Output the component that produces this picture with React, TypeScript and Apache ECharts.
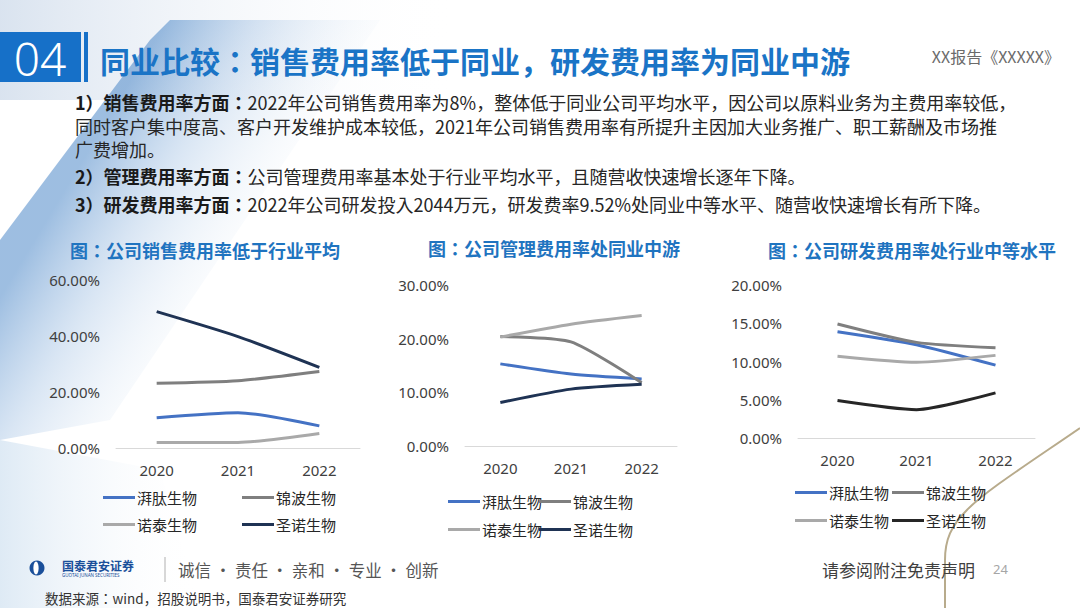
import React, { useEffect, useRef } from "react";
import * as echarts from "echarts";

const years = ["2020", "2021", "2022"];
const companies = ["湃肽生物", "锦波生物", "诺泰生物", "圣诺生物"];

// 销售费用率 (%)
const salesPaitai = [10.8, 12.6, 7.9];
const salesJinbo = [23.1, 24.0, 27.3];
const salesNuotai = [2.0, 2.0, 5.2];
const salesShengnuo = [48.7, 39.8, 28.8];

// 管理费用率 (%)
const adminPaitai = [15.3, 13.4, 12.5];
const adminJinbo = [20.4, 19.4, 11.8];
const adminNuotai = [20.3, 22.7, 24.3];
const adminShengnuo = [8.1, 10.6, 11.5];

// 研发费用率 (%)
const rdPaitai = [13.9, 12.2, 9.52];
const rdJinbo = [14.9, 12.5, 11.8];
const rdNuotai = [10.7, 9.9, 10.8];
const rdShengnuo = [4.9, 3.7, 5.9];

// y-axis ranges (max, interval)
const yMaxes = [60, 30, 20];
const yIntervals = [20, 10, 5];

const chartTitles = [
  "图：公司销售费用率低于行业平均",
  "图：公司管理费用率处同业中游",
  "图：公司研发费用率处行业中等水平",
];

const headline = "同业比较：销售费用率低于同业，研发费用率为同业中游";

const CJK = '"Noto Sans CJK SC", "Noto Sans", sans-serif';
const CJKJP = '"Noto Sans CJK JP", "Noto Sans CJK SC", sans-serif';

export default function App() {
  const ref = useRef<HTMLDivElement>(null);

  useEffect(() => {
    if (!ref.current) return;
    const chart = echarts.init(ref.current, undefined, { renderer: "svg" });

    const dataSets = [
      [salesPaitai, salesJinbo, salesNuotai, salesShengnuo],
      [adminPaitai, adminJinbo, adminNuotai, adminShengnuo],
      [rdPaitai, rdJinbo, rdNuotai, rdShengnuo],
    ];
    const palettes = [
      ["#4472c4", "#7f7f7f", "#a9a9a9", "#1f3354"],
      ["#4472c4", "#7f7f7f", "#a9a9a9", "#1f3354"],
      ["#4472c4", "#7f7f7f", "#a9a9a9", "#262626"],
    ];
    const grids = [
      { left: 116, top: 280, width: 244, height: 168 },
      { left: 465, top: 285, width: 212, height: 161 },
      { left: 798, top: 285, width: 237, height: 153 },
    ];
    const legendPos = [
      { cols: [103, 242], rows: [498, 525] },
      { cols: [448, 539], rows: [502, 530] },
      { cols: [795, 892], rows: [493, 521] },
    ];
    const titlePos = [
      { x: 70, y: 250 },
      { x: 428, y: 248 },
      { x: 768, y: 250 },
    ];

    const series: any[] = [];
    const legends: any[] = [];
    dataSets.forEach((set, gi) => {
      set.forEach((vals, si) => {
        series.push({
          type: "line",
          name: companies[si],
          xAxisIndex: gi,
          yAxisIndex: gi,
          data: vals,
          smooth: 0.22,
          showSymbol: false,
          symbol: "none",
          lineStyle: { color: palettes[gi][si], width: 3 },
          itemStyle: { color: palettes[gi][si] },
          z: 3 + si,
        });
        const lp = legendPos[gi];
        legends.push({
          left: lp.cols[si % 2],
          top: lp.rows[Math.floor(si / 2)] - 8,
          padding: 0,
          itemGap: 0,
          icon: "rect",
          itemWidth: 32,
          itemHeight: 3,
          selectedMode: false,
          data: [{ name: companies[si], itemStyle: { color: palettes[gi][si] } }],
          textStyle: { fontSize: 15, color: "#262626", fontFamily: CJK, padding: [0, 0, 0, -3] },
        });
      });
    });

    const para1 =
      "{b|1）销售费用率方面：}{n|2022年公司销售费用率为8%，整体低于同业公司平均水平，因公司以原料业务为主费用率较低，}\n" +
      "{n|同时客户集中度高、客户开发维护成本较低，2021年公司销售费用率有所提升主因加大业务推广、职工薪酬及市场推}\n" +
      "{n|广费增加。}";
    const para2 = "{b|2）管理费用率方面：}{n|公司管理费用率基本处于行业平均水平，且随营收快速增长逐年下降。}";
    const para3 = "{b|3）研发费用率方面：}{n|2022年公司研发投入2044万元，研发费率9.52%处同业中等水平、随营收快速增长有所下降。}";
    const paras = [
      { y: 125.5, text: para1 },
      { y: 176, text: para2 },
      { y: 204, text: para3 },
    ];

    const graphics: any[] = [
      { type: "rect", z: -20, shape: { x: 0, y: 0, width: 1080, height: 608 }, style: { fill: "#ffffff" } },
      {
        type: "polygon",
        z: -19,
        shape: { points: [[0, 0], [460, 0], [460, 100], [0, 100]] },
        style: {
          fill: new echarts.graphic.LinearGradient(0, 0, 1, 0, [
            { offset: 0, color: "rgba(205,218,234,0.75)" },
            { offset: 1, color: "rgba(255,255,255,0)" },
          ]),
        },
      },
      {
        type: "polygon",
        z: -18,
        shape: { points: [[0, 240], [150, 40], [170, 20], [380, 20], [110, 420], [0, 440]] },
        style: {
          fill: new echarts.graphic.LinearGradient(0.24, 0.3, 0.72, 0.62, [
            { offset: 0, color: "rgba(60,125,195,0.5)" },
            { offset: 0.35, color: "rgba(120,165,215,0.28)" },
            { offset: 1, color: "rgba(255,255,255,0)" },
          ]),
        },
      },
      {
        type: "polygon",
        z: -18,
        shape: { points: [[0, 440], [160, 470], [200, 608], [0, 608]] },
        style: {
          fill: new echarts.graphic.LinearGradient(0, 0, 1, 0, [
            { offset: 0, color: "rgba(200,220,238,0.6)" },
            { offset: 1, color: "rgba(255,255,255,0)" },
          ]),
        },
      },
      // decorative tan curve
      {
        type: "bezierCurve",
        z: -10,
        shape: { x1: 1080, y1: 428, x2: 945, y2: 560, cpx1: 975, cpy1: 500, cpx2: 945, cpy2: 515 },
        style: { stroke: "#b8ab8c", lineWidth: 2, fill: null },
      },
      {
        type: "line",
        z: -10,
        shape: { x1: 945, y1: 560, x2: 945, y2: 608 },
        style: { stroke: "#b8ab8c", lineWidth: 2 },
      },
      // header
      { type: "rect", shape: { x: 0, y: 32, width: 81, height: 50 }, style: { fill: "#1670c8" } },
      {
        type: "text",
        x: 40,
        y: 58,
        style: { text: "04", fill: "#ffffff", fontSize: 46, fontFamily: '"Noto Sans", sans-serif', fontWeight: 300, textAlign: "center", textVerticalAlign: "middle" },
      },
      { type: "rect", shape: { x: 84, y: 32, width: 4, height: 50 }, style: { fill: "#1670c8" } },
      {
        type: "text",
        x: 100,
        y: 60,
        style: { text: headline, fill: "#1a74c6", fontSize: 30, fontWeight: "bold", fontFamily: CJKJP, textVerticalAlign: "middle" },
      },
      {
        type: "text",
        x: 1060,
        y: 56,
        style: { text: "XX报告《XXXXX》", fill: "#6b6b6b", fontSize: 16, fontFamily: CJK, textAlign: "right", textVerticalAlign: "middle" },
      },
    ];

    paras.forEach((p) => {
      graphics.push({
        type: "text",
        x: 75,
        y: p.y,
        style: {
          text: p.text,
          textVerticalAlign: "middle",
          rich: {
            b: { fontSize: 18, lineHeight: 23.5, fontWeight: "bold", fill: "#1a1a1a", fontFamily: CJKJP },
            n: { fontSize: 18, lineHeight: 23.5, fill: "#262626", fontFamily: CJKJP },
          },
        },
      });
    });

    chartTitles.forEach((t, i) => {
      graphics.push({
        type: "text",
        x: titlePos[i].x,
        y: titlePos[i].y,
        style: { text: t, fill: "#1f74c0", fontSize: 18, fontWeight: "bold", fontFamily: CJKJP, textVerticalAlign: "middle" },
      });
    });

    // footer
    graphics.push(
      { type: "circle", shape: { cx: 37, cy: 568, r: 7.5 }, style: { fill: "#1a4f9a" } },
      { type: "ellipse", shape: { cx: 36, cy: 568, rx: 2.6, ry: 6.5 }, style: { fill: "#ffffff" } },
      {
        type: "text",
        x: 62,
        y: 565,
        style: { text: "国泰君安证券", fill: "#1a4f9a", fontSize: 12, fontWeight: "bold", fontFamily: CJK, textVerticalAlign: "middle" },
      },
      {
        type: "text",
        x: 62,
        y: 575,
        style: { text: "GUOTAI JUNAN SECURITIES", fill: "#1a4f9a", fontSize: 4.5, fontFamily: '"Noto Sans", sans-serif', textVerticalAlign: "middle" },
      },
      { type: "line", shape: { x1: 165, y1: 557, x2: 165, y2: 582 }, style: { stroke: "#b0b0b0", lineWidth: 1 } },
      {
        type: "text",
        x: 178,
        y: 570,
        style: { text: "诚信 · 责任 · 亲和 · 专业 · 创新", fill: "#555555", fontSize: 16.5, fontFamily: CJK, textVerticalAlign: "middle" },
      },
      {
        type: "text",
        x: 975,
        y: 569,
        style: { text: "请参阅附注免责声明", fill: "#404040", fontSize: 17, fontFamily: CJK, textAlign: "right", textVerticalAlign: "middle" },
      },
      {
        type: "text",
        x: 993,
        y: 569,
        style: { text: "24", fill: "#a6a6a6", fontSize: 13, fontFamily: '"Noto Sans", sans-serif', textVerticalAlign: "middle" },
      },
      {
        type: "text",
        x: 45,
        y: 598,
        style: { text: "数据来源：wind，招股说明书，国泰君安证券研究", fill: "#333333", fontSize: 13.5, fontFamily: CJKJP, textVerticalAlign: "middle" },
      }
    );

    const option: any = {
      animation: false,
      backgroundColor: "#ffffff",
      grid: grids,
      xAxis: grids.map((_, i) => ({
        type: "category",
        gridIndex: i,
        data: years,
        boundaryGap: true,
        axisLine: { show: true, lineStyle: { color: "#d9d9d9", width: 1 } },
        axisTick: { show: false },
        axisLabel: { fontSize: 15, color: "#404040", margin: 14, fontFamily: '"Noto Sans", sans-serif' },
        splitLine: { show: false },
      })),
      yAxis: grids.map((_, i) => ({
        type: "value",
        gridIndex: i,
        min: 0,
        max: yMaxes[i],
        interval: yIntervals[i],
        axisLine: { show: false },
        axisTick: { show: false },
        splitLine: { show: false },
        axisLabel: {
          fontSize: 15,
          color: "#404040",
          margin: 16,
          fontFamily: '"Noto Sans", sans-serif',
          formatter: (v: number) => v.toFixed(2) + "%",
        },
      })),
      legend: legends,
      series,
      graphic: graphics,
    };

    chart.setOption(option);
    return () => {
      chart.dispose();
    };
  }, []);

  return (
    <div
      ref={ref}
      style={{ position: "absolute", left: 0, top: 0, width: 1080, height: 608, background: "#fff" }}
    />
  );
}
